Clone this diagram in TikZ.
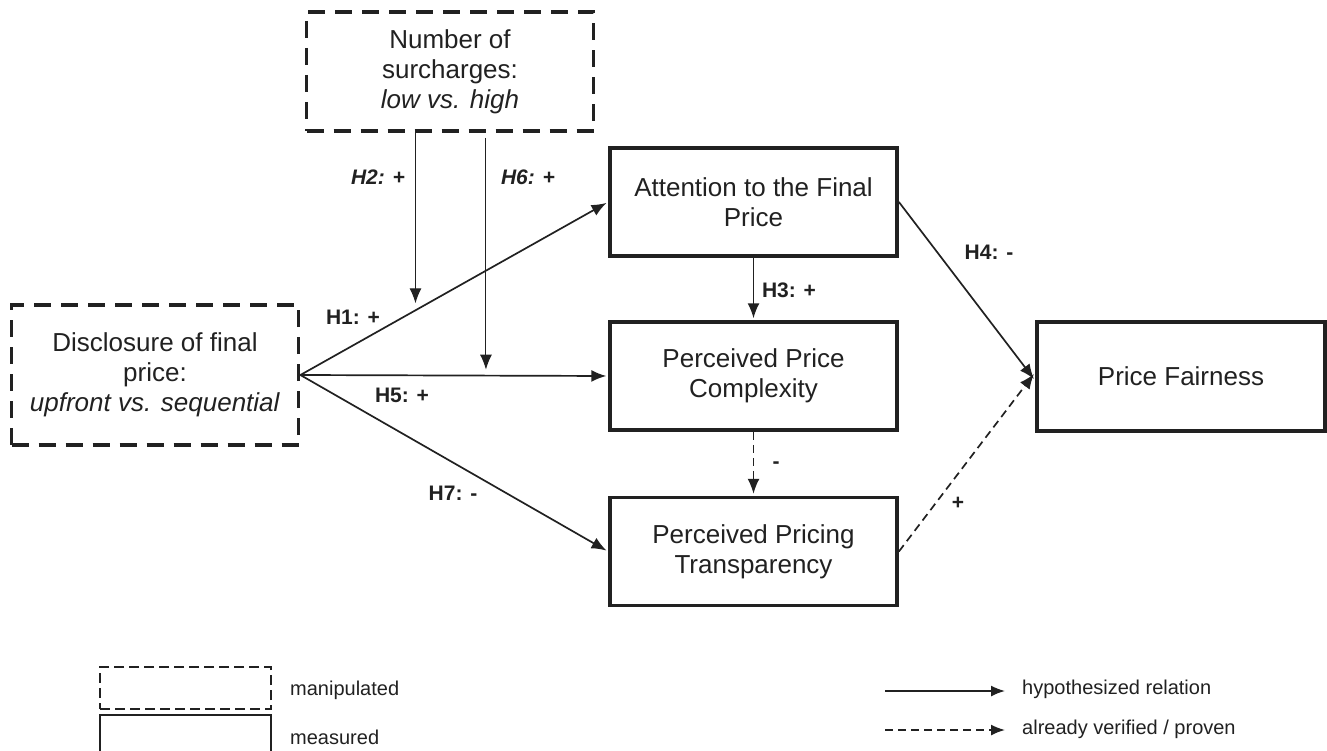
\documentclass[tikz,border=0pt]{standalone}
\usepackage{fontspec}
\setmainfont{Liberation Sans}
\usetikzlibrary{arrows.meta,calc}
\definecolor{ink}{gray}{0.13}
\begin{document}
\begin{tikzpicture}[x=1pt,y=-1pt,
  box/.style={draw=ink, line width=3.8pt, minimum width=287pt, minimum height=108pt,
    align=center, inner sep=0pt, font=\fontsize{26}{30}\selectfont, text=ink},
  manip/.style={box, dash pattern=on 17pt off 10pt},
  arr/.style={draw=ink, line width=1.7pt, shorten >=1.8pt, -{Latex[length=15pt,width=12pt]}},
  modarr/.style={draw=ink, line width=1.1pt, -{Latex[length=15pt,width=12pt]}},
  varr/.style={arr, dash pattern=on 8pt off 5pt},
  lab/.style={font=\fontsize{21}{25}\selectfont\bfseries, text=ink, inner sep=0pt},
  ilab/.style={lab, font=\fontsize{21}{25}\selectfont\bfseries\itshape},
  legtxt/.style={font=\fontsize{20}{24}\selectfont, text=ink, inner sep=0pt, anchor=west},
  legbox/.style={draw=ink, line width=1.4pt, minimum width=171pt, minimum height=42pt, inner sep=0pt},
  legarr/.style={draw=ink, line width=1.6pt, -{Latex[length=14pt,width=11pt]}}
]
\useasboundingbox (0,0) rectangle (1327,751);

% nodes
\node[manip, minimum height=119pt] (num) at (450,71.5) {Number of\\surcharges:\\\textit{low vs. high}};
\node[manip, minimum height=140pt] (disc) at (155,375) {Disclosure of final\\price:\\\textit{upfront vs. sequential}};
\node[box] (att) at (753.5,202) {Attention to the Final\\Price};
\node[box] (comp) at (753.5,376) {Perceived Price\\Complexity};
\node[box] (trans) at (753.5,551.5) {Perceived Pricing\\Transparency};
\node[box, minimum width=288pt, minimum height=109pt] (pf) at (1181,376.5) {Price Fairness};

% main arrows
\draw[arr] (disc.east) -- (att.west);
\draw[arr] (disc.east) -- (comp.west);
\draw[arr] (disc.east) -- (trans.west);
\draw[arr] (att.south) -- (comp.north);
\draw[varr] (comp.south) -- (trans.north);
\draw[arr] (att.east) -- ([yshift=-4pt]pf.west);
\draw[varr] (trans.east) -- ([yshift=4pt]pf.west);

% moderator arrows
\coordinate (m1) at ($(disc.east)!0.374!(att.west)$);
\coordinate (m2) at ($(disc.east)!0.603!(comp.west)$);
\draw[modarr, shorten >=7pt] (num.south -| m1) -- (m1);
\draw[modarr, shorten >=6pt, shorten <=5pt] (num.south -| m2) -- (m2);

% labels
\node[ilab] (lh2) at (378,177) {H2: +};
\node[ilab] (lh6) at (528,177) {H6: +};
\node[lab] (lh1) at (353,317) {H1: +};
\node[lab] (lh5) at (402,395) {H5: +};
\node[lab] (lh7) at (453,493) {H7: -};
\node[lab] (lh3) at (789,290) {H3: +};
\node[lab] (lneg) at (776,465) {-};
\node[lab] (lh4) at (989,252) {H4: -};
\node[lab] (lpos) at (958,503) {+};

% legend
\node[legbox, dash pattern=on 10pt off 5pt] (lgm) at (185.5,688) {};
\node[legbox, minimum height=50pt] (lgs) at (185.5,740) {};
\node[legtxt] (tm) at (290,690) {manipulated};
\node[legtxt] (ts) at (290,737) {measured};
\coordinate (la1) at (885,691);
\coordinate (lb1) at (1005,691);
\coordinate (la2) at (885,730);
\coordinate (lb2) at (1005,730);
\draw[legarr] (la1) -- (lb1);
\draw[legarr, dash pattern=on 8pt off 5pt] (la2) -- (lb2);
\node[legtxt] (th) at (1022,689) {hypothesized relation};
\node[legtxt] (tv) at (1022,729) {already verified / proven};
\end{tikzpicture}
\end{document}
